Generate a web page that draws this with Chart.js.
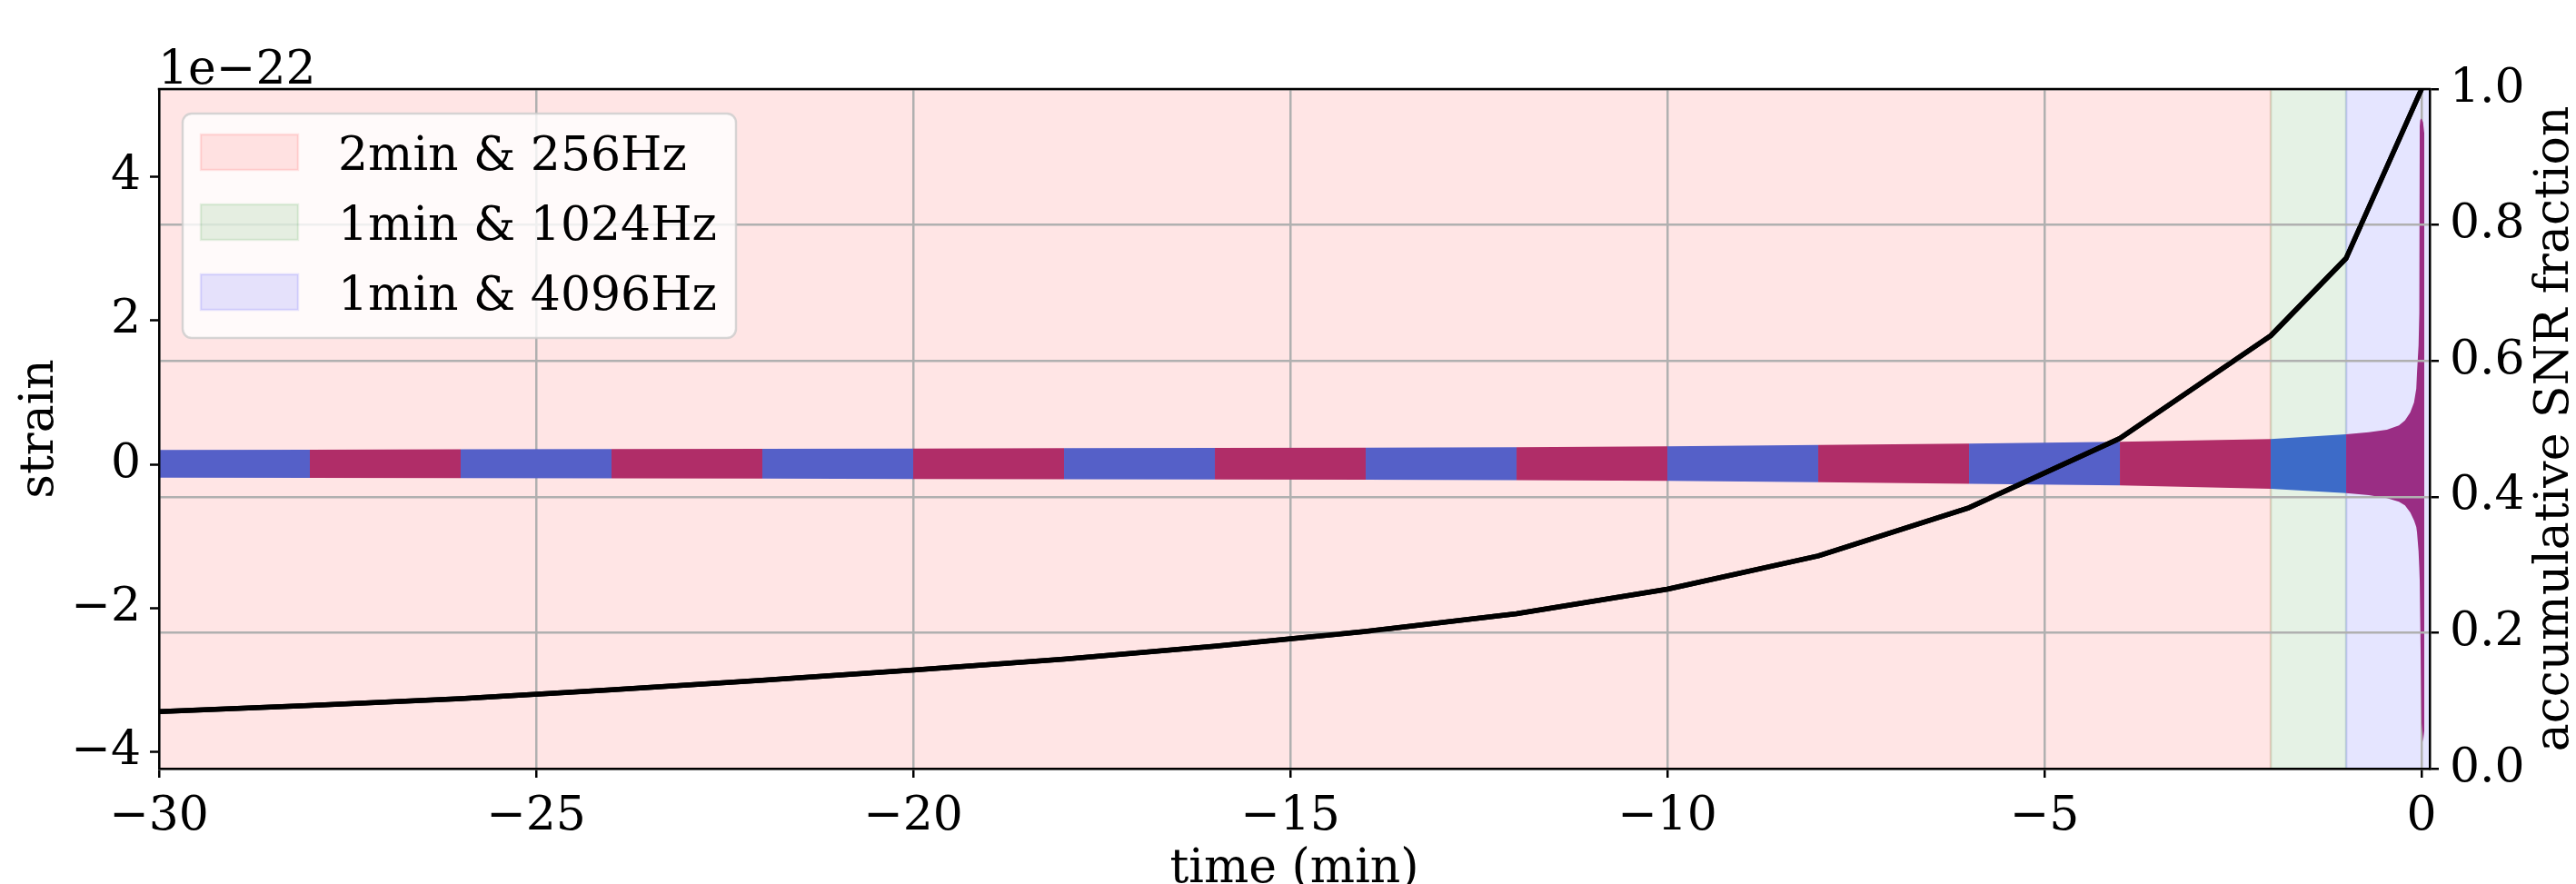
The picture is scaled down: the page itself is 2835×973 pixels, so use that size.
<!DOCTYPE html>
<html lang="en">
<head>
  <meta charset="UTF-8">
  <title>strain and accumulative SNR fraction</title>
  <script src="https://cdn.jsdelivr.net/npm/chart.js"></script>
  <style>
    html, body {
      margin: 0;
      padding: 0;
      background-color: #fff;
    }
    #wrap {
      width: 2835px;
      height: 973px;
    }
  </style>
</head>
<body>
<div id="wrap"><canvas id="snrChart" width="2835" height="973"></canvas></div>

<script>
  // waveform pieces: edges in minutes, one colour per piece
  const segEdges = [-30, -28, -26, -24, -22, -20, -18, -16, -14, -12, -10, -8, -6, -4, -2, -1, 0.036];
  const segColors = [
    '#5560c8', '#b02d68', '#5560c8', '#b02d68', '#5560c8', '#b02d68', '#5560c8',
    '#b02d68', '#5560c8', '#b02d68', '#5560c8', '#b02d68', '#5560c8', '#b02d68',
    '#3d6bc8', '#9a2d84'
  ];

  // strain envelope (units of 1e-22)
  const envT = [-30, -28, -26, -24, -22, -20, -18, -16, -14, -12, -10, -8, -6, -4, -2,
    -1, -0.7, -0.46, -0.3, -0.22, -0.15, -0.1, -0.07, -0.06, -0.04, -0.03, -0.024, -0.018, -0.01, 0, 0.02, 0.036];
  const envUp = [0.200, 0.203, 0.207, 0.211, 0.215, 0.219, 0.223, 0.228, 0.232, 0.238, 0.250, 0.268, 0.288, 0.312, 0.350,
    0.417, 0.445, 0.48, 0.54, 0.61, 0.72, 0.86, 1.05, 1.28, 1.65, 2.1, 4.7, 4.78, 4.8, 4.8, 4.75, 4.6];
  const envLow = [-0.186, -0.189, -0.192, -0.196, -0.200, -0.204, -0.208, -0.212, -0.216, -0.221, -0.231, -0.249, -0.270, -0.292, -0.340,
    -0.400, -0.43, -0.47, -0.52, -0.57, -0.67, -0.78, -0.87, -0.95, -1.21, -1.45, -1.63, -2.13, -2.8, -3.6, -3.86, -3.7];

  // accumulative SNR fraction
  const snrT = [-30, -28, -26, -24, -22, -20, -18, -16, -14, -12, -10, -8, -6, -4, -2, -1, 0];
  const snrFrac = [0.084, 0.093, 0.103, 0.116, 0.130, 0.145, 0.161, 0.180, 0.202, 0.228, 0.264, 0.313, 0.384, 0.486, 0.637, 0.751, 1.0];

  // sampling spans
  const spanStart = [-30, -2, -1];
  const spanEnd = [-2, -1, 0.3];
  const spanLabels = ['2min & 256Hz', '1min & 1024Hz', '1min & 4096Hz'];
  const spanColors = ['rgba(255,0,0,0.1)', 'rgba(0,128,0,0.1)', 'rgba(0,0,255,0.1)'];

  // ticks
  const xTicks = [-30, -25, -20, -15, -10, -5, 0];
  const strainTicks = [-4, -2, 0, 2, 4];
  const snrTicks = [0, 0.2, 0.4, 0.6, 0.8, 1.0];

  const FONT = '"DejaVu Serif", "Liberation Serif", serif';
  const minus = v => String(v).replace('-', '\u2212');

  // build datasets: SNR line first, then an upper/lower pair per waveform piece
  const datasets = [{
    label: 'SNR',
    yAxisID: 'y1',
    data: snrT.map((t, i) => ({x: t, y: snrFrac[i]})),
    borderColor: '#000',
    borderWidth: 5.5,
    borderJoinStyle: 'round',
    pointRadius: 0,
    fill: false,
    tension: 0,
    order: 0
  }];

  for (let k = 0; k < segColors.length; k++) {
    const idx = envT.map((t, i) => i).filter(i => envT[i] >= segEdges[k] && envT[i] <= segEdges[k + 1]);
    datasets.push({
      label: 'up' + k,
      yAxisID: 'y',
      data: idx.map(i => ({x: envT[i], y: envUp[i]})),
      borderColor: 'rgba(0,0,0,0)',
      borderWidth: 0,
      pointRadius: 0,
      fill: false,
      tension: 0,
      order: 1
    });
    datasets.push({
      label: 'low' + k,
      yAxisID: 'y',
      data: idx.map(i => ({x: envT[i], y: envLow[i]})),
      borderColor: 'rgba(0,0,0,0)',
      borderWidth: 0,
      backgroundColor: segColors[k],
      pointRadius: 0,
      fill: '-1',
      tension: 0,
      order: 1
    });
  }

  const spanPlugin = {
    id: 'spans',
    beforeDraw(chart) {
      const {ctx, chartArea: a, scales: {x}} = chart;
      ctx.save();
      ctx.beginPath();
      ctx.rect(a.left, a.top, a.right - a.left, a.bottom - a.top);
      ctx.clip();
      spanStart.forEach((s, i) => {
        const x0 = x.getPixelForValue(s);
        const x1 = x.getPixelForValue(spanEnd[i]);
        ctx.fillStyle = spanColors[i];
        ctx.fillRect(x0, a.top, x1 - x0, a.bottom - a.top);
        ctx.strokeStyle = spanColors[i];
        ctx.lineWidth = 2.5;
        ctx.strokeRect(x0, a.top, x1 - x0, a.bottom - a.top);
      });
      ctx.restore();
    }
  };

  const overlayPlugin = {
    id: 'overlay',
    afterDraw(chart) {
      const {ctx, chartArea: a} = chart;

      // put the SNR line back over the twin-axis grid
      ctx.save();
      ctx.beginPath();
      ctx.rect(a.left, a.top - 3, a.right - a.left, a.bottom - a.top + 3);
      ctx.clip();
      chart.getDatasetMeta(0).controller.draw();
      ctx.restore();

      ctx.save();
      // top spine
      ctx.strokeStyle = '#000';
      ctx.lineWidth = 2.5;
      ctx.beginPath();
      ctx.moveTo(a.left - 1.25, a.top);
      ctx.lineTo(a.right + 1.25, a.top);
      ctx.stroke();

      // legend
      ctx.fillStyle = 'rgba(255,255,255,0.8)';
      ctx.strokeStyle = 'rgba(204,204,204,0.8)';
      ctx.lineWidth = 2.5;
      ctx.beginPath();
      ctx.roundRect(201, 125, 609, 247, 10);
      ctx.fill();
      ctx.stroke();
      ctx.font = '52px ' + FONT;
      ctx.textAlign = 'left';
      ctx.textBaseline = 'alphabetic';
      spanLabels.forEach((lab, i) => {
        const y = 148 + i * 77;
        ctx.fillStyle = spanColors[i];
        ctx.fillRect(221, y, 107, 39);
        ctx.strokeStyle = spanColors[i];
        ctx.strokeRect(221, y, 107, 39);
        ctx.fillStyle = '#000';
        ctx.fillText(lab, 372, y + 39);
      });

      // texts
      ctx.fillStyle = '#000';
      ctx.font = '52px ' + FONT;
      ctx.fillText('1e\u221222', 174, 92);

      ctx.textAlign = 'center';
      ctx.fillText('time (min)', (a.left + a.right) / 2, 971);

      ctx.translate(58, (a.top + a.bottom) / 2);
      ctx.rotate(-Math.PI / 2);
      ctx.fillText('strain', 0, 0);
      ctx.restore();

      ctx.save();
      ctx.fillStyle = '#000';
      ctx.font = '52px ' + FONT;
      ctx.textAlign = 'center';
      ctx.textBaseline = 'alphabetic';
      ctx.translate(2826, (a.top + a.bottom) / 2);
      ctx.rotate(-Math.PI / 2);
      ctx.fillText('accumulative SNR fraction', 0, 0);
      ctx.restore();
    }
  };

  const tickFont = {family: FONT, size: 52};

  new Chart(document.getElementById('snrChart').getContext('2d'), {
    type: 'line',
    data: {datasets: datasets},
    options: {
      responsive: false,
      animation: false,
      devicePixelRatio: 1,
      layout: {padding: {top: 98, left: 0, right: 0, bottom: 0}},
      plugins: {
        legend: {display: false},
        tooltip: {enabled: false}
      },
      scales: {
        x: {
          type: 'linear',
          min: -30,
          max: 0.108,
          afterFit: s => { s.height = 127; },
          afterBuildTicks: s => { s.ticks = xTicks.map(v => ({value: v})); },
          ticks: {font: tickFont, color: '#000', padding: 12, maxRotation: 0, callback: v => minus(v)},
          grid: {color: '#b0b0b0', lineWidth: 2.5, tickLength: 10, tickColor: '#000', tickWidth: 2.5},
          border: {display: true, color: '#000', width: 2.5, z: 2}
        },
        y: {
          type: 'linear',
          position: 'left',
          min: -4.23,
          max: 5.215,
          afterFit: s => { s.width = 175; },
          afterBuildTicks: s => { s.ticks = strainTicks.map(v => ({value: v})); },
          ticks: {font: tickFont, color: '#000', padding: 10, callback: v => minus(v)},
          grid: {drawOnChartArea: false, tickLength: 10, tickColor: '#000', tickWidth: 2.5},
          border: {display: true, color: '#000', width: 2.5, z: 2}
        },
        y1: {
          type: 'linear',
          position: 'right',
          min: 0,
          max: 1,
          afterFit: s => { s.width = 161; },
          afterBuildTicks: s => { s.ticks = snrTicks.map(v => ({value: v})); },
          ticks: {font: tickFont, color: '#000', padding: 12, callback: v => v.toFixed(1)},
          grid: {color: '#b0b0b0', lineWidth: 2.5, tickLength: 10, tickColor: '#000', tickWidth: 2.5, z: 1},
          border: {display: true, color: '#000', width: 2.5, z: 2}
        }
      }
    },
    plugins: [spanPlugin, overlayPlugin]
  });
</script>
</body>
</html>
